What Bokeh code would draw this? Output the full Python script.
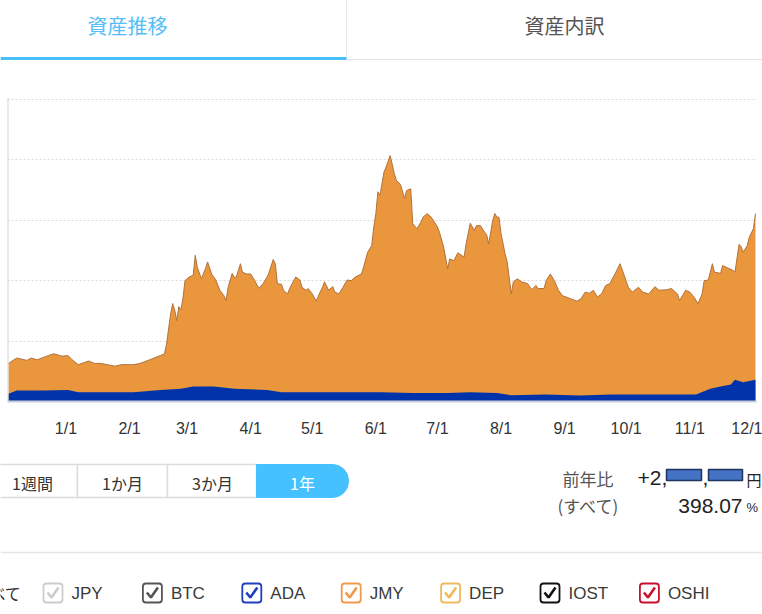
import pandas as pd
from bokeh.plotting import figure
from bokeh.layouts import column
from bokeh.models import Range1d, FixedTicker, CustomJSTickFormatter, Span
from bokeh.core.properties import value
from bokeh.embed import file_html
from bokeh.resources import INLINE

# ---------------- data ----------------
stack_dates = [
    "2020-12-04", "2020-12-08", "2020-12-13", "2020-12-15", "2020-12-18", "2020-12-21", "2020-12-26", "2020-12-30",
    "2021-01-02", "2021-01-04", "2021-01-07", "2021-01-12", "2021-01-15", "2021-01-18", "2021-01-21", "2021-01-25", "2021-01-28",
    "2021-02-01", "2021-02-03", "2021-02-06", "2021-02-10", "2021-02-13", "2021-02-16", "2021-02-18", "2021-02-19", "2021-02-21",
    "2021-02-22", "2021-02-23", "2021-02-24", "2021-02-25", "2021-02-26", "2021-02-27", "2021-02-28",
    "2021-03-02", "2021-03-04", "2021-03-05", "2021-03-06", "2021-03-08", "2021-03-10", "2021-03-11", "2021-03-13", "2021-03-15",
    "2021-03-17", "2021-03-19", "2021-03-20", "2021-03-21", "2021-03-23", "2021-03-24", "2021-03-25", "2021-03-27", "2021-03-28", "2021-03-30",
    "2021-04-01", "2021-04-03", "2021-04-05", "2021-04-07", "2021-04-09", "2021-04-10", "2021-04-12", "2021-04-13", "2021-04-14",
    "2021-04-16", "2021-04-17", "2021-04-19", "2021-04-20", "2021-04-22", "2021-04-23", "2021-04-25", "2021-04-26", "2021-04-28", "2021-04-29",
    "2021-05-01", "2021-05-03", "2021-05-04", "2021-05-06", "2021-05-07", "2021-05-09", "2021-05-11", "2021-05-12", "2021-05-14",
    "2021-05-16", "2021-05-18", "2021-05-20", "2021-05-22", "2021-05-25", "2021-05-26", "2021-05-28", "2021-05-30", "2021-05-31",
    "2021-06-01", "2021-06-02", "2021-06-03", "2021-06-05", "2021-06-06", "2021-06-08", "2021-06-10", "2021-06-11", "2021-06-13",
    "2021-06-15", "2021-06-16", "2021-06-18", "2021-06-19", "2021-06-21", "2021-06-23", "2021-06-24", "2021-06-26", "2021-06-28",
    "2021-07-01", "2021-07-02", "2021-07-04", "2021-07-06", "2021-07-07", "2021-07-09", "2021-07-11", "2021-07-14", "2021-07-15",
    "2021-07-17", "2021-07-19", "2021-07-20", "2021-07-22", "2021-07-24", "2021-07-25", "2021-07-26", "2021-07-28", "2021-07-29",
    "2021-07-30", "2021-07-31",
    "2021-08-01", "2021-08-03", "2021-08-04", "2021-08-06", "2021-08-07", "2021-08-09", "2021-08-11", "2021-08-14", "2021-08-16",
    "2021-08-18", "2021-08-19", "2021-08-22", "2021-08-23", "2021-08-25", "2021-08-27", "2021-08-29", "2021-08-31",
    "2021-09-04", "2021-09-07", "2021-09-09", "2021-09-11", "2021-09-13", "2021-09-15", "2021-09-17", "2021-09-19", "2021-09-21",
    "2021-09-23", "2021-09-26", "2021-09-28", "2021-09-30",
    "2021-10-02", "2021-10-04", "2021-10-07", "2021-10-09", "2021-10-12", "2021-10-15", "2021-10-17", "2021-10-21", "2021-10-23",
    "2021-10-26", "2021-10-27", "2021-10-30",
    "2021-11-01", "2021-11-03", "2021-11-05", "2021-11-07", "2021-11-08", "2021-11-10", "2021-11-12", "2021-11-13", "2021-11-16",
    "2021-11-17", "2021-11-20", "2021-11-22", "2021-11-23", "2021-11-25", "2021-11-26", "2021-11-27", "2021-11-29", "2021-11-30",
    "2021-12-02", "2021-12-03",
]
stack_top = [
    0.63, 0.72, 0.68, 0.72, 0.69, 0.73, 0.79, 0.75,
    0.76, 0.69, 0.61, 0.67, 0.63, 0.63, 0.61, 0.585, 0.61,
    0.61, 0.61, 0.63, 0.68, 0.72, 0.76, 0.79, 0.95, 1.45,
    1.62, 1.51, 1.34, 1.57, 1.52, 1.70, 2.00,
    2.06, 2.09, 2.42, 2.22, 2.03, 2.20, 2.31, 2.11, 2.01,
    1.84, 1.75, 1.67, 1.89, 2.12, 2.05, 2.06, 2.28, 2.14, 2.11,
    2.11, 2.00, 1.87, 1.95, 2.06, 2.14, 2.35, 2.28, 1.95,
    1.94, 1.84, 1.78, 1.87, 2.00, 2.06, 2.01, 1.89, 1.84, 1.87,
    1.78, 1.66, 1.75, 1.89, 1.98, 1.84, 1.90, 1.81, 1.78,
    1.89, 2.01, 2.00, 2.06, 2.11, 2.22, 2.47, 2.58, 2.89,
    3.11, 3.47, 3.41, 3.80, 3.88, 4.07, 3.77, 3.66, 3.59,
    3.36, 3.49, 3.52, 2.94, 2.86, 2.97, 3.05, 3.11, 3.05,
    2.89, 2.80, 2.56, 2.20, 2.36, 2.33, 2.46, 2.39, 2.61,
    2.95, 2.83, 2.91, 2.91, 2.80, 2.76, 2.61, 3.00, 3.11,
    3.05, 3.05,
    2.78, 2.44, 2.31, 1.78, 1.98, 2.03, 1.98, 1.95, 1.85,
    1.92, 1.87, 1.87, 2.00, 2.11, 2.00, 1.84, 1.75,
    1.70, 1.66, 1.70, 1.81, 1.79, 1.84, 1.73, 1.78, 1.92,
    1.95, 2.14, 2.28, 2.09,
    1.89, 1.81, 1.89, 1.81, 1.78, 1.90, 1.84, 1.85, 1.87,
    1.78, 1.67, 1.84,
    1.81, 1.73, 1.62, 1.78, 2.00, 2.01, 2.28, 2.14, 2.12,
    2.25, 2.20, 2.17, 2.14, 2.60, 2.56, 2.47, 2.58, 2.72,
    2.86, 3.11,
]
ada_dates = [
    "2020-12-04", "2020-12-08", "2020-12-21", "2021-01-02", "2021-01-07", "2021-01-18", "2021-02-03", "2021-02-16",
    "2021-02-26", "2021-03-04", "2021-03-14", "2021-03-24", "2021-04-09", "2021-04-16", "2021-04-25", "2021-05-11",
    "2021-06-03", "2021-06-19", "2021-07-06", "2021-07-17", "2021-07-30", "2021-08-06", "2021-08-23", "2021-09-08",
    "2021-09-24", "2021-10-12", "2021-11-04", "2021-11-11", "2021-11-16", "2021-11-21", "2021-11-23", "2021-11-27",
    "2021-12-03",
]
ada_top = [
    0.13, 0.18, 0.18, 0.19, 0.155, 0.155, 0.155, 0.19,
    0.21, 0.25, 0.25, 0.21, 0.19, 0.155, 0.155, 0.155,
    0.155, 0.14, 0.14, 0.155, 0.14, 0.105, 0.115, 0.10,
    0.115, 0.115, 0.115, 0.21, 0.25, 0.28, 0.36, 0.32,
    0.36,
]
tick_dates = ["2021-01-01", "2021-02-01", "2021-03-01", "2021-04-01", "2021-05-01", "2021-06-01",
              "2021-07-01", "2021-08-01", "2021-09-01", "2021-10-01", "2021-11-01", "2021-12-01"]
grid_levels = [1, 2, 3, 4, 5]

tab_labels = ["資産推移", "資産内訳"]
range_buttons = ["1週間", "1か月", "3か月", "1年"]
legend_names = ["JPY", "BTC", "ADA", "JMY", "DEP", "IOST", "OSHI"]
legend_colors = ["#CCCCCC", "#555555", "#1E3FBE", "#F0994A", "#EDBB5A", "#111111", "#C8102E"]
ratio_label = "前年比"
ratio_sub = "(すべて)"
ratio_value = "398.07"

# ---------------- styles ----------------
JP = value("Noto Sans CJK JP")
LAT_NAME = "Liberation Sans"
LAT = value(LAT_NAME)
W = 762
ORANGE = "#E9963C"
BLUE = "#0033AA"


def ui_fig(top, bottom):
    p = figure(width=W, height=bottom - top, x_range=Range1d(0, W), y_range=Range1d(bottom, top),
               x_axis_location=None, y_axis_location=None, output_backend="svg",
               toolbar_location=None, min_border=0, frame_align=False)
    p.grid.visible = False
    p.outline_line_color = None
    p.background_fill_color = "white"
    p.border_fill_color = "white"
    return p


# ---------------- top: tabs ----------------
top = ui_fig(0, 97)
top.text(x=[127], y=[25], text=[tab_labels[0]], text_font=JP, text_font_size="20px",
         text_color="#55BEF6", text_align="center", text_baseline="middle")
top.text(x=[564], y=[25], text=[tab_labels[1]], text_font=JP, text_font_size="20px",
         text_color="#555555", text_align="center", text_baseline="middle")
top.segment(x0=[346], y0=[0], x1=[346], y1=[58], line_color="#E6E6E6", line_width=1)
top.segment(x0=[346], y0=[59], x1=[W], y1=[59], line_color="#E3E3E3", line_width=1)
top.segment(x0=[0], y0=[58], x1=[346], y1=[58], line_color="#45C0FA", line_width=3)

# ---------------- chart ----------------
sx = pd.to_datetime(stack_dates)
ax = pd.to_datetime(ada_dates)
x0 = pd.Timestamp("2020-12-03 12:00")
x1 = pd.Timestamp("2021-12-03 12:00")
chart = figure(width=W, height=348, x_axis_type="datetime", x_range=Range1d(x0, x1),
               y_range=Range1d(0, 5.03), y_axis_location=None, output_backend="svg",
               toolbar_location=None, min_border_left=7, min_border_right=6,
               min_border_top=0, min_border_bottom=44, frame_align=False)
chart.outline_line_color = None
chart.xgrid.visible = False
chart.ygrid.ticker = FixedTicker(ticks=grid_levels)
chart.ygrid.grid_line_color = "#D9D9D9"
chart.ygrid.grid_line_dash = "2 2"
chart.ygrid.grid_line_width = 1

chart.varea(x=sx, y1=0, y2=stack_top, fill_color=ORANGE)
chart.line(x=sx, y=stack_top, line_color="#B0723C", line_width=1)
chart.varea(x=ax, y1=0, y2=ada_top, fill_color=BLUE)
chart.add_layout(Span(location=x0, dimension="height", line_color="#D3D3D3", line_width=2))

xa = chart.xaxis[0]
xa.ticker = FixedTicker(ticks=[pd.Timestamp(d).value / 1e6 for d in tick_dates])
xa.formatter = CustomJSTickFormatter(code="""
    const d = new Date(tick);
    return (d.getUTCMonth() + 1) + "/" + d.getUTCDate();
""")
xa.axis_line_color = "#CACDD6"
xa.axis_line_width = 2
xa.major_tick_line_color = None
xa.minor_tick_line_color = None
xa.major_tick_out = 0
xa.major_tick_in = 0
xa.major_label_standoff = 18
xa.major_label_text_font = LAT_NAME
xa.major_label_text_font_size = "16px"
xa.major_label_text_color = "#333333"

# ---------------- bottom UI ----------------
bot = ui_fig(445, 614)
btn_l = [-20, 77, 167]
btn_r = [77, 167, 256]
bot.quad(left=btn_l, right=btn_r, top=464, bottom=497, fill_color="white",
         line_color="#DCDCDC", line_width=1.5)
bot.quad(left=[256], right=[348], top=464, bottom=497, fill_color="#45C1FF",
         line_color="#45C1FF", line_width=1, border_radius=(0, 16, 16, 0))
bot.text(x=[32, 122, 212], y=[482, 482, 482], text=range_buttons[:3], text_font=JP,
         text_font_size="16px", text_color="#333333", text_align="center", text_baseline="middle")
bot.text(x=[302], y=[482], text=[range_buttons[3]], text_font=JP,
         text_font_size="16px", text_color="white", text_align="center", text_baseline="middle")

# ratio block
bot.text(x=[562], y=[478], text=[ratio_label], text_font=JP, text_font_size="17px",
         text_color="#555555", text_align="left", text_baseline="middle")
bot.text(x=[557], y=[505], text=[ratio_sub], text_font=JP, text_font_size="17px",
         text_color="#555555", text_align="left", text_baseline="middle")
bot.text(x=[637], y=[477], text=["+2,"], text_font=LAT, text_font_size="21px",
         text_color="#222222", text_align="left", text_baseline="middle")
bot.text(x=[702], y=[477], text=[","], text_font=LAT, text_font_size="21px",
         text_color="#222222", text_align="left", text_baseline="middle")
bot.quad(left=[666, 708], right=[701, 742], top=469, bottom=480, fill_color="#4472C4",
         line_color="#1F3460", line_width=1.5)
bot.text(x=[746], y=[479], text=["円"], text_font=JP, text_font_size="15px",
         text_color="#222222", text_align="left", text_baseline="middle")
bot.text(x=[742], y=[505], text=[ratio_value], text_font=LAT, text_font_size="21px",
         text_color="#222222", text_align="right", text_baseline="middle")
bot.text(x=[746], y=[507], text=["%"], text_font=LAT, text_font_size="13px",
         text_color="#222222", text_align="left", text_baseline="middle")

# separator
bot.segment(x0=[0], y0=[552], x1=[W], y1=[552], line_color="#E6E6E6", line_width=1.5)

# legend
bot.text(x=[22], y=[592], text=["すべて"], text_font=JP, text_font_size="16px",
         text_color="#333333", text_align="right", text_baseline="middle")
box_l = [43 + i * 99.4 for i in range(len(legend_names))]
bt, bb = 583, 602
bot.quad(left=box_l, right=[l + 19 for l in box_l], top=bt, bottom=bb, fill_color="white",
         line_color=legend_colors, line_width=1.8, border_radius=3)
bot.multi_line(xs=[[l + 4, l + 8, l + 15] for l in box_l],
               ys=[[bt + 9, bt + 14, bt + 4] for _ in box_l],
               line_color=legend_colors, line_width=2.6)
bot.text(x=[l + 28 for l in box_l], y=[593] * len(box_l), text=legend_names, text_font=LAT,
         text_font_size="17px", text_color="#3A3A3A", text_align="left", text_baseline="middle")

page = column(top, chart, bot, spacing=0)
open("out.html", "w").write(file_html(page, INLINE))
